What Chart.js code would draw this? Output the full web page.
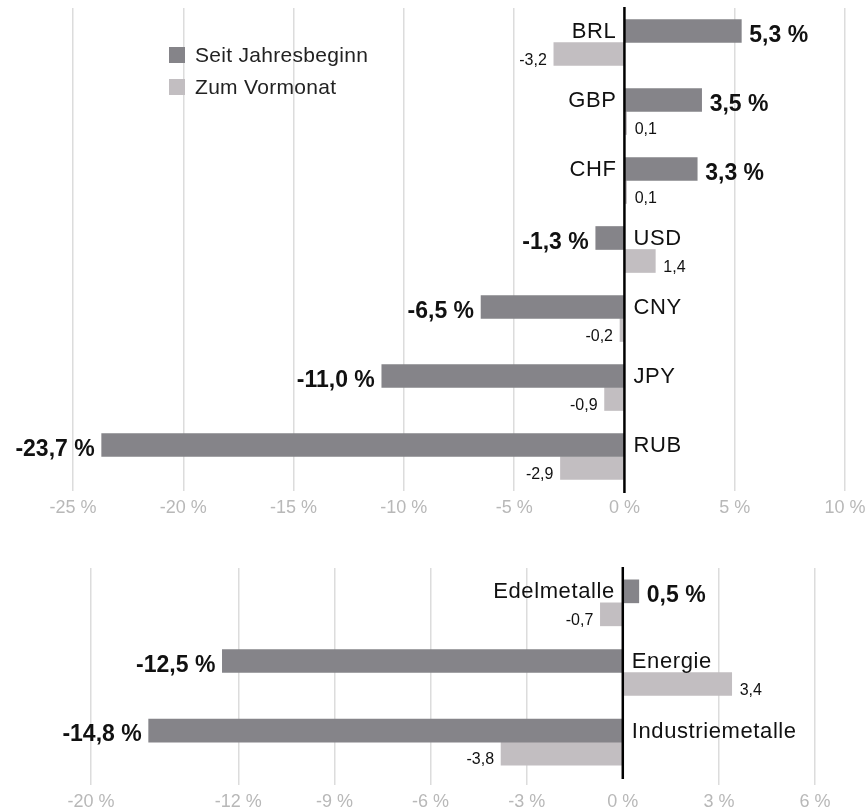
<!DOCTYPE html>
<html>
<head>
<meta charset="utf-8">
<script src="https://cdn.jsdelivr.net/npm/chart.js@4.4.1/dist/chart.umd.min.js"></script>
<style>
    html, body { margin: 0; padding: 0; background: #fff; }
    #wrap { position: relative; width: 868px; height: 810px; overflow: hidden; }
    #top { position: absolute; left: 0; top: 0; }
    #bottom { position: absolute; left: 0; top: 540px; }
    .legend { position: absolute; left: 169px; top: 39px; font: 21px "Liberation Sans", Arial, sans-serif; letter-spacing: 0.3px; color: #222; }
    .legend div { height: 32px; display: flex; align-items: center; }
    .legend .box { width: 16px; height: 16px; margin-right: 10px; }
</style>
</head>
<body>
<div id="wrap">
    <canvas id="top" width="868" height="540"></canvas>
    <canvas id="bottom" width="868" height="270"></canvas>
    <div class="legend">
        <div><span class="box" style="background:#858489"></span>Seit Jahresbeginn</div>
        <div><span class="box" style="background:#c2bec1"></span>Zum Vormonat</div>
    </div>
</div>
<script>
    // Währungen
    const currencies = ['BRL', 'GBP', 'CHF', 'USD', 'CNY', 'JPY', 'RUB'];
    const currYtd = [5.3, 3.5, 3.3, -1.3, -6.5, -11.0, -23.7];
    const currMonth = [-3.2, 0.1, 0.1, 1.4, -0.2, -0.9, -2.9];

    // Rohstoffe
    const commodities = ['Edelmetalle', 'Energie', 'Industriemetalle'];
    const commYtd = [0.5, -12.5, -14.8];
    const commMonth = [-0.7, 3.4, -3.8];

    // Achse unten (Beschriftung wie im Original)
    const commTickValues = [-16.6, -12, -9, -6, -3, 0, 3, 6];
    const commTickLabels = ['-20 %', '-12 %', '-9 %', '-6 %', '-3 %', '0 %', '3 %', '6 %'];

    const DARK = '#858489';
    const LIGHT = '#c2bec1';
    const FONT = '"Liberation Sans", Arial, Helvetica, sans-serif';

    Chart.defaults.font.family = FONT;

    const fmt = v => v.toFixed(1).replace('.', ',');

    // Null-Linie und Beschriftungen an den Balken
    const barLabels = {
        id: 'barLabels',
        afterDatasetsDraw(chart) {
            const ctx = chart.ctx;
            const area = chart.chartArea;
            const zeroX = chart.scales.x.getPixelForValue(0);
            const ytd = chart.data.datasets[0].data;
            const mon = chart.data.datasets[1].data;

            ctx.save();
            ctx.strokeStyle = '#000';
            ctx.lineWidth = 2.5;
            ctx.beginPath();
            ctx.moveTo(zeroX, area.top - 1);
            ctx.lineTo(zeroX, area.bottom + 2);
            ctx.stroke();

            ctx.fillStyle = '#111';
            chart.getDatasetMeta(0).data.forEach((bar, i) => {
                const v = ytd[i];
                ctx.font = '22px ' + FONT;
                ctx.letterSpacing = '0.6px';
                ctx.textBaseline = 'middle';
                ctx.textAlign = v >= 0 ? 'right' : 'left';
                ctx.fillText(chart.data.labels[i], v >= 0 ? zeroX - 8 : zeroX + 9, bar.y + 1);

                ctx.font = 'bold 23px ' + FONT;
                ctx.letterSpacing = '0px';
                ctx.textBaseline = 'alphabetic';
                ctx.textAlign = v >= 0 ? 'left' : 'right';
                ctx.fillText(fmt(v) + ' %', v >= 0 ? bar.x + 8 : bar.x - 7, bar.y + bar.height / 2 - 1);
            });

            chart.getDatasetMeta(1).data.forEach((bar, i) => {
                const v = mon[i];
                ctx.font = '16px ' + FONT;
                ctx.textBaseline = 'alphabetic';
                ctx.textAlign = v >= 0 ? 'left' : 'right';
                ctx.fillText(fmt(v), v >= 0 ? bar.x + 8 : bar.x - 7, bar.y + bar.height / 2 - 1);
            });
            ctx.restore();
        }
    };

    function makeChart(id, labels, ytd, month, xOpts, padding, catPct) {
        return new Chart(document.getElementById(id), {
            type: 'bar',
            data: {
                labels: labels,
                datasets: [
                    { label: 'Seit Jahresbeginn', data: ytd, backgroundColor: DARK, barThickness: 23, categoryPercentage: catPct },
                    { label: 'Zum Vormonat', data: month, backgroundColor: LIGHT, barThickness: 23, categoryPercentage: catPct },
                ],
            },
            options: {
                indexAxis: 'y',
                responsive: false,
                animation: false,
                layout: { padding: padding },
                plugins: {
                    legend: { display: false },
                    tooltip: { enabled: false },
                },
                scales: {
                    y: { display: false },
                    x: Object.assign({
                        border: { display: false },
                    }, xOpts),
                },
            },
            plugins: [barLabels],
        });
    }

    const gridColor = c => (c.tick && c.tick.value === 0) ? 'rgba(0,0,0,0)' : '#dcdcdc';

    makeChart('top', currencies, currYtd, currMonth, {
        min: -25,
        max: 10,
        afterFit: axis => { axis.height = 49; axis.paddingLeft = 0; axis.paddingRight = 0; },
        grid: { drawTicks: false, lineWidth: 1.5, color: gridColor },
        ticks: {
            stepSize: 5,
            padding: 6,
            autoSkip: false,
            maxRotation: 0,
            color: '#b8b8b8',
            font: { size: 18 },
            callback: v => v + ' %',
        },
    }, { left: 73, right: 23, top: 8, bottom: 0 }, 0.754);

    makeChart('bottom', commodities, commYtd, commMonth, {
        min: -16.6,
        max: 6,
        afterFit: axis => { axis.height = 33; axis.paddingLeft = 0; axis.paddingRight = 0; },
        afterBuildTicks: axis => { axis.ticks = commTickValues.map(v => ({ value: v })); },
        grid: { drawTicks: true, tickLength: 8, lineWidth: 1.5, color: gridColor },
        ticks: {
            padding: 6,
            autoSkip: false,
            maxRotation: 0,
            color: '#b8b8b8',
            font: { size: 18 },
            callback: (v, i) => commTickLabels[i],
        },
    }, { left: 91, right: 53, top: 28, bottom: 0 }, 0.73);
</script>
</body>
</html>
